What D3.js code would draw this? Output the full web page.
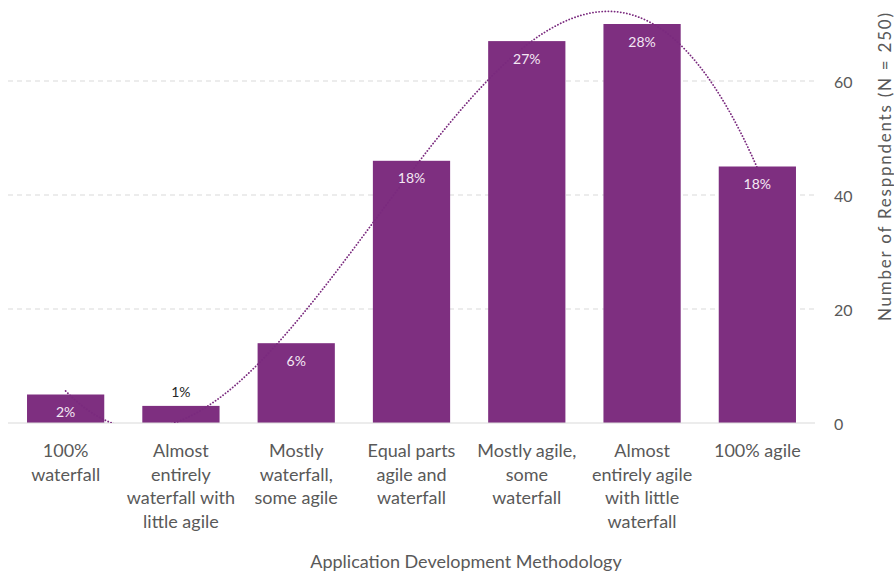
<!DOCTYPE html>
<html>
<head>
<meta charset="utf-8">
<script src="https://cdn.jsdelivr.net/npm/d3@7"></script>
<style>
  html, body { margin: 0; padding: 0; background: #fff; }
  svg { display: block; font-family: Lato, "Open Sans", sans-serif; }
</style>
</head>
<body>
<svg id="chart" width="894" height="572"></svg>
<script>
// Survey responses by application development methodology
const categories = [
  ["100%", "waterfall"],
  ["Almost", "entirely", "waterfall with", "little agile"],
  ["Mostly", "waterfall,", "some agile"],
  ["Equal parts", "agile and", "waterfall"],
  ["Mostly agile,", "some", "waterfall"],
  ["Almost", "entirely agile", "with little", "waterfall"],
  ["100% agile"]
];
const respondents = [5, 3, 14, 46, 67, 70, 45];
const percentLabels = ["2%", "1%", "6%", "18%", "27%", "28%", "18%"];
const yTicks = [0, 20, 40, 60];

const svg = d3.select("#chart");
const barColor = "#7e2f80";
const textColor = "#595959";

const x = d3.scaleBand()
  .domain(d3.range(categories.length))
  .range([8, 815])
  .paddingInner(0.33)
  .paddingOuter(0.165);

const y = d3.scaleLinear().domain([0, 60]).range([423, 81]);

// Dashed horizontal gridlines
svg.append("g")
  .selectAll("line")
  .data(yTicks.filter(t => t > 0))
  .join("line")
  .attr("x1", 8).attr("x2", 815)
  .attr("y1", d => y(d)).attr("y2", d => y(d))
  .attr("stroke", "#d9d9d9")
  .attr("stroke-width", 1)
  .attr("stroke-dasharray", "5,4");

// Bars
svg.append("g")
  .selectAll("rect")
  .data(respondents)
  .join("rect")
  .attr("x", (d, i) => x(i))
  .attr("width", x.bandwidth())
  .attr("y", d => y(d))
  .attr("height", d => y(0) - y(d))
  .attr("fill", barColor);

// Baseline
svg.append("line")
  .attr("x1", 8).attr("x2", 815)
  .attr("y1", y(0)).attr("y2", y(0))
  .attr("stroke", "#d9d9d9")
  .attr("stroke-width", 1.2);

// Cubic least-squares trendline across category positions 1..n
function polyFit(xs, ys, order) {
  const n = order + 1;
  const A = Array.from({length: n}, () => new Array(n + 1).fill(0));
  xs.forEach((xv, k) => {
    for (let r = 0; r < n; r++) {
      for (let c = 0; c < n; c++) A[r][c] += Math.pow(xv, r + c);
      A[r][n] += ys[k] * Math.pow(xv, r);
    }
  });
  for (let p = 0; p < n; p++) {
    let best = p;
    for (let r = p + 1; r < n; r++) if (Math.abs(A[r][p]) > Math.abs(A[best][p])) best = r;
    [A[p], A[best]] = [A[best], A[p]];
    for (let r = 0; r < n; r++) {
      if (r === p) continue;
      const f = A[r][p] / A[p][p];
      for (let c = p; c <= n; c++) A[r][c] -= f * A[p][c];
    }
  }
  return A.map((row, i) => row[n] / row[i]);
}
const xIdx = respondents.map((d, i) => i + 1);
const coef = polyFit(xIdx, respondents, 3);
const trend = t => coef.reduce((s, c, i) => s + c * Math.pow(t, i), 0);

const xt = d3.scaleLinear()
  .domain([1, categories.length])
  .range([x(0) + x.bandwidth() / 2, x(categories.length - 1) + x.bandwidth() / 2]);

const trendPts = d3.range(1, categories.length + 0.0001, 0.02).map(t => [xt(t), y(trend(t))]);

svg.append("clipPath").attr("id", "plotClip")
  .append("rect").attr("x", 0).attr("y", 0).attr("width", 894).attr("height", y(0));

svg.append("path")
  .attr("clip-path", "url(#plotClip)")
  .attr("d", d3.line()(trendPts))
  .attr("fill", "none")
  .attr("stroke", "#7a2a7e")
  .attr("stroke-width", 1.8)
  .attr("stroke-linecap", "round")
  .attr("stroke-dasharray", "0.1,3");

// Percentage labels
svg.append("g")
  .selectAll("text")
  .data(respondents)
  .join("text")
  .attr("x", (d, i) => x(i) + x.bandwidth() / 2)
  .attr("y", d => (y(0) - y(d) > 22 ? y(d) + 17 : y(d) - 14))
  .attr("text-anchor", "middle")
  .attr("dominant-baseline", "central")
  .attr("font-size", 14)
  .attr("fill", d => (y(0) - y(d) > 22 ? "#f4e8f4" : "#262626"))
  .text((d, i) => percentLabels[i]);

// Category labels
const catG = svg.append("g");
categories.forEach((lines, i) => {
  const t = catG.append("text")
    .attr("x", x(i) + x.bandwidth() / 2)
    .attr("y", 450)
    .attr("text-anchor", "middle")
    .attr("dominant-baseline", "central")
    .attr("font-size", 18)
    .attr("fill", textColor);
  lines.forEach((ln, j) => {
    t.append("tspan")
      .attr("x", x(i) + x.bandwidth() / 2)
      .attr("dy", j === 0 ? 0 : 23.7)
      .text(ln);
  });
});

// Right value axis
svg.append("g")
  .selectAll("text")
  .data(yTicks)
  .join("text")
  .attr("x", 834)
  .attr("y", d => y(d))
  .attr("dominant-baseline", "central")
  .attr("font-size", 16)
  .attr("fill", textColor)
  .text(d => d);

// Axis titles
svg.append("text")
  .attr("x", 466)
  .attr("y", 561)
  .attr("text-anchor", "middle")
  .attr("dominant-baseline", "central")
  .attr("font-size", 18)
  .attr("fill", textColor)
  .text("Application Development Methodology");

svg.append("text")
  .attr("transform", "translate(884,167) rotate(-90)")
  .attr("text-anchor", "middle")
  .attr("dominant-baseline", "central")
  .attr("font-size", 17)
  .attr("textLength", 308)
  .attr("lengthAdjust", "spacing")
  .attr("fill", textColor)
  .text("Number of Resppndents (N = 250)");
</script>
</body>
</html>
